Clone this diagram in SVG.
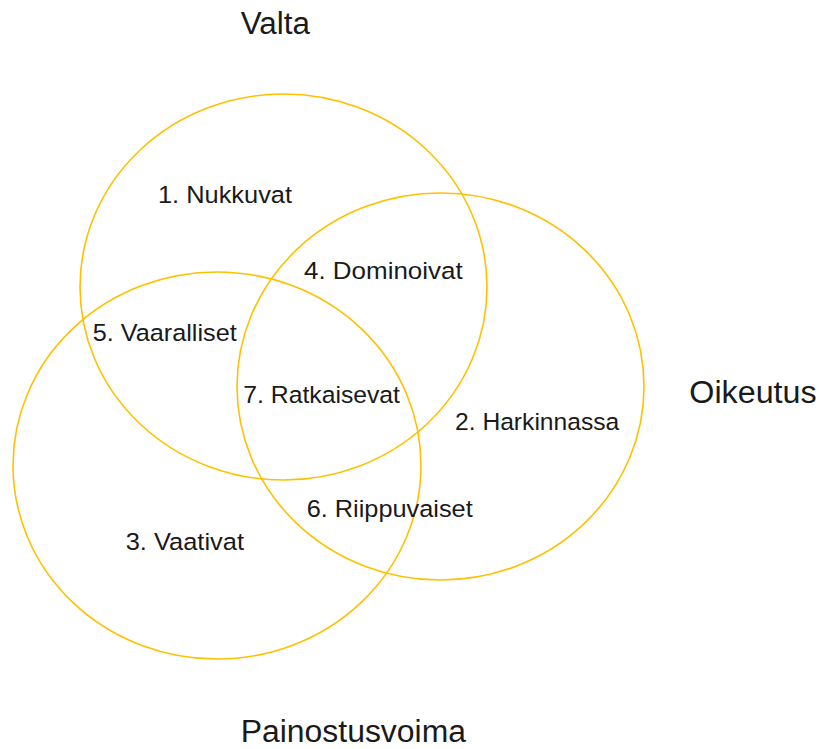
<svg xmlns="http://www.w3.org/2000/svg" width="819" height="749" viewBox="0 0 819 749">
<style>
.c{fill:none;stroke:#FFC000;stroke-width:1.6}
.t{font-family:"Liberation Sans",Arial,sans-serif;fill:#1a1a1a}
.s{font-size:24.5px}
.l{font-size:31px}
</style>
<rect width="819" height="749" fill="#ffffff"/>
<g id="valta">
<ellipse class="c" cx="283.5" cy="287" rx="203.5" ry="193"/>
<text class="t l" x="240.7" y="34" textLength="69.3" lengthAdjust="spacingAndGlyphs">Valta</text>
</g>
<g id="oikeutus">
<ellipse class="c" cx="440.5" cy="386.5" rx="203.5" ry="193.5"/>
<text class="t l" x="689.3" y="403.3" textLength="127.4" lengthAdjust="spacingAndGlyphs">Oikeutus</text>
</g>
<g id="painostusvoima">
<ellipse class="c" cx="217" cy="465.5" rx="204" ry="193.5"/>
<text class="t l" x="240.7" y="742" textLength="225.3" lengthAdjust="spacingAndGlyphs">Painostusvoima</text>
</g>
<g id="regions">
<text class="t s" x="158" y="203" textLength="134" lengthAdjust="spacingAndGlyphs">1. Nukkuvat</text>
<text class="t s" x="304" y="279" textLength="158.7" lengthAdjust="spacingAndGlyphs">4. Dominoivat</text>
<text class="t s" x="455" y="430" textLength="164.3" lengthAdjust="spacingAndGlyphs">2. Harkinnassa</text>
<text class="t s" x="92.7" y="340.7" textLength="144" lengthAdjust="spacingAndGlyphs">5. Vaaralliset</text>
<text class="t s" x="243.3" y="402.7" textLength="156.7" lengthAdjust="spacingAndGlyphs">7. Ratkaisevat</text>
<text class="t s" x="306.7" y="516.7" textLength="166" lengthAdjust="spacingAndGlyphs">6. Riippuvaiset</text>
<text class="t s" x="125.7" y="550" textLength="118.3" lengthAdjust="spacingAndGlyphs">3. Vaativat</text>
</g>
<g id="connectors"></g>
</svg>
